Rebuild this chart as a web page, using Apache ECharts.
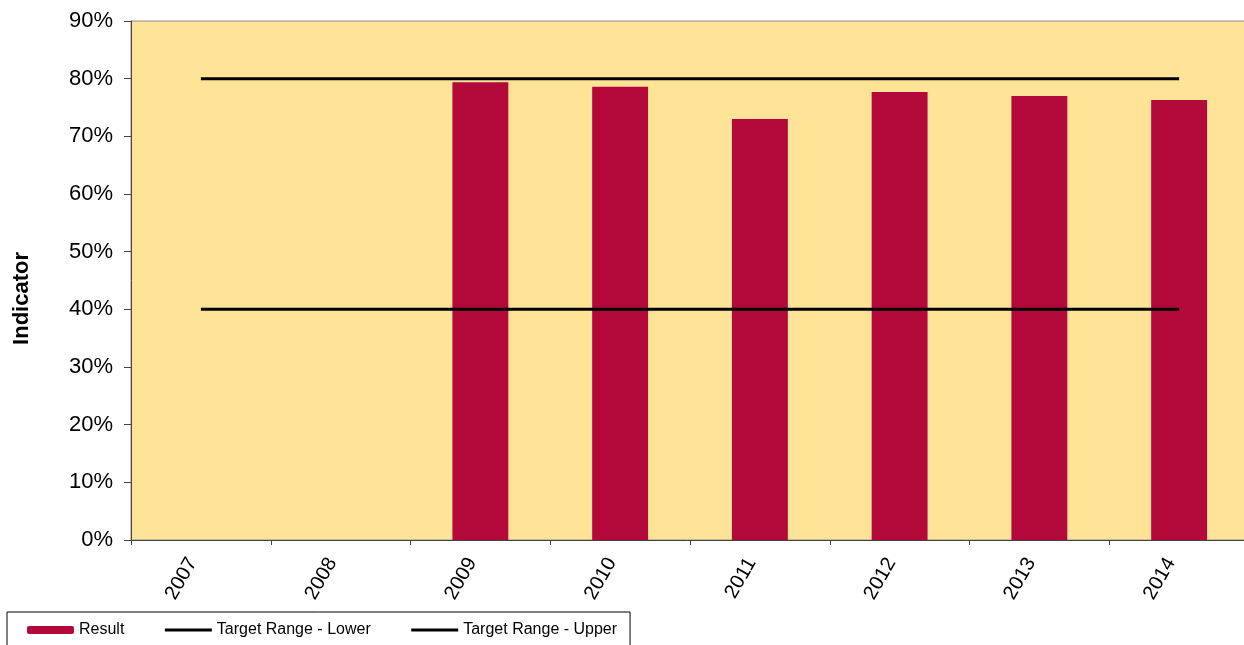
<!DOCTYPE html>
<html>
<head>
<meta charset="utf-8">
<script src="https://cdn.jsdelivr.net/npm/echarts@6/dist/echarts.min.js"></script>
<style>
html,body{margin:0;padding:0;background:#fff;overflow:hidden;}
#c{width:1244px;height:645px;}
</style>
</head>
<body>
<div id="c"></div>
<script>
var categories = ['2007','2008','2009','2010','2011','2012','2013','2014'];
var resultValues = [null, null, 79.4, 78.6, 73.0, 77.7, 77.0, 76.3];
var lowerValues = [40, 40, 40, 40, 40, 40, 40, 40];
var upperValues = [80, 80, 80, 80, 80, 80, 80, 80];

var chart = echarts.init(document.getElementById('c'), null, {renderer: 'canvas'});
var font = 'Liberation Sans, Arial, sans-serif';
chart.setOption({
  animation: false,
  textStyle: {fontFamily: font},
  grid: {
    left: 131, top: 21, width: 1118, bottom: 105,
    outerBoundsMode: 'none', containLabel: false,
    show: true, backgroundColor: '#FFE397', borderColor: '#8c8c8c', borderWidth: 1
  },
  graphic: [{
    type: 'text', left: 11, top: 252, rotation: Math.PI / 2,
    style: {text: 'Indicator', font: 'bold 22px ' + font, fill: '#000'}
  }],
  legend: {
    left: 7, top: 612,
    padding: [10, 13, 30, 20],
    borderColor: '#000', borderWidth: 1,
    itemWidth: 47, itemHeight: 8, itemGap: 39,
    textStyle: {fontSize: 16, color: '#000', fontFamily: font},
    data: [
      {name: 'Result'},
      {name: 'Target Range - Lower', itemStyle: {opacity: 0}, lineStyle: {width: 3, color: '#000'}},
      {name: 'Target Range - Upper', itemStyle: {opacity: 0}, lineStyle: {width: 3, color: '#000'}}
    ]
  },
  xAxis: {
    type: 'category', data: categories,
    axisLine: {lineStyle: {color: '#444', width: 1}},
    axisTick: {show: true, length: 5, lineStyle: {color: '#444'}},
    axisLabel: {rotate: 60, fontSize: 20, color: '#000', margin: 5, fontFamily: font,
                formatter: function (v) { return v + '\u00a0\u00a0\u00a0'; }},
    splitLine: {show: false}
  },
  yAxis: {
    type: 'value', min: 0, max: 90, interval: 10,
    axisLine: {show: true, lineStyle: {color: '#444', width: 1}},
    axisTick: {show: true, length: 7, lineStyle: {color: '#444'}},
    axisLabel: {formatter: '{value}%', fontSize: 22, color: '#000', margin: 18, fontFamily: font},
    splitLine: {show: false}
  },
  series: [
    {name: 'Result', type: 'bar', data: resultValues, barWidth: '40%',
     itemStyle: {color: '#B3093A'}},
    {name: 'Target Range - Lower', type: 'line', data: lowerValues, symbol: 'none', showSymbol: false,
     lineStyle: {color: '#000', width: 3}, itemStyle: {color: '#000'}},
    {name: 'Target Range - Upper', type: 'line', data: upperValues, symbol: 'none', showSymbol: false,
     lineStyle: {color: '#000', width: 3}, itemStyle: {color: '#000'}}
  ]
});
</script>
</body>
</html>
